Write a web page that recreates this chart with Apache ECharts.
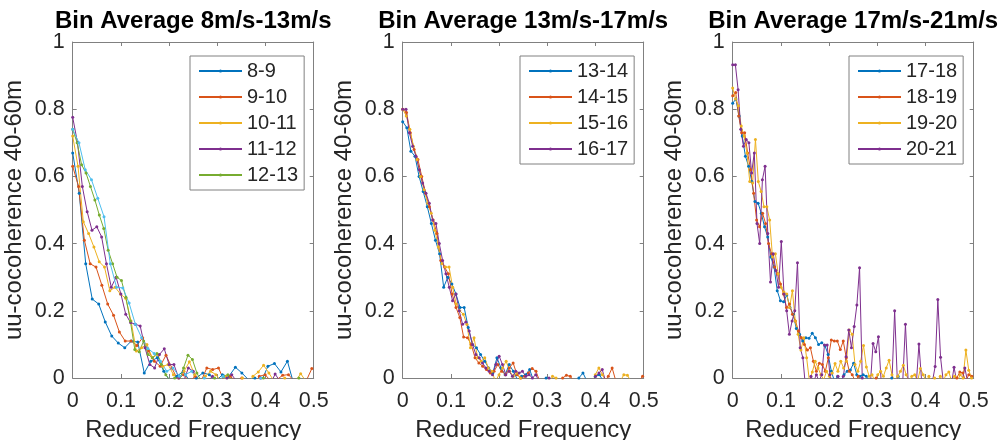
<!DOCTYPE html>
<html>
<head>
<meta charset="utf-8">
<title>Bin Average coherence</title>
<script src="https://cdn.jsdelivr.net/npm/echarts@6/dist/echarts.min.js"></script>
<style>
  html, body { margin: 0; padding: 0; background: #fff; }
  #chart { width: 1001px; height: 440px; }
</style>
</head>
<body>
<div id="chart"></div>
<script>
  // panel titles and legend entries
  const titles = ['Bin Average 8m/s-13m/s', 'Bin Average 13m/s-17m/s', 'Bin Average 17m/s-21m/s'];
  const names1 = ['8-9', '9-10', '10-11', '11-12', '12-13'];
  const names2 = ['13-14', '14-15', '15-16', '16-17'];
  const names3 = ['17-18', '18-19', '19-20', '20-21'];

  // reduced frequency spacing of each bin (step between samples)
  const steps1 = [0.0135, 0.0121, 0.011, 0.01, 0.0092, 0.013];
  const steps2 = [0.0085, 0.0079, 0.0074, 0.0069];
  const steps3 = [0.0066, 0.0062, 0.0059, 0.0056];

  // uu-cocoherence, panel 1
  const coh8_9 = [0.67, 0.55, 0.34, 0.235, 0.22, 0.167, 0.125, 0.104, 0.09, 0.11, 0.107, 0.015, 0.05, 0.06, 0.02, -0.01, 0.005, 0.02, -0.01, 0,
    0.015, 0.01, -0.01, 0.01, 0.005, 0.032, 0.015, -0.005, 0, -0.01, 0.035, 0.043, 0.018, 0.05, -0.02, -0.01, -0.02, -0.01];
  const coh9_10 = [0.63, 0.57, 0.41, 0.34, 0.33, 0.276, 0.22, 0.187, 0.137, 0.11, 0.11, 0.097, 0.12, 0.08, 0.05, 0.035, 0.068, 0.03, -0.005, 0.01,
    -0.01, 0.005, -0.01, 0.03, 0.025, 0.03, -0.01, 0.005, -0.01, 0, -0.01, -0.02, 0.005, 0.01, -0.01, -0.005, 0.008, 0.01, -0.01, -0.02,
    -0.01, 0.028];
  const coh10_11 = [0.72, 0.63, 0.465, 0.43, 0.39, 0.346, 0.33, 0.26, 0.27, 0.25, 0.237, 0.17, 0.08, 0.09, 0.1, 0.06, 0.07, 0.035, 0.04, 0.01,
    0, 0.02, 0.048, 0.01, -0.01, 0.005, 0.02, 0.01, -0.01, 0.005, -0.01, -0.01, 0, -0.02, 0.005, 0.018, 0.038, 0.015, -0.01, -0.01,
    0, -0.02, -0.01, 0.013, -0.01, -0.02];
  const coh11_12 = [0.776, 0.70, 0.57, 0.495, 0.44, 0.45, 0.42, 0.34, 0.27, 0.30, 0.25, 0.19, 0.165, 0.16, 0.155, 0.09, 0.04, 0.03, 0.07, 0.087,
    0.04, 0.04, 0, -0.01, 0.03, 0.02, -0.01, -0.02, -0.01, 0.005, -0.01, -0.02, 0, 0.01, -0.01, -0.02, -0.01, -0.02, -0.01, 0,
    -0.01, -0.02, 0.012, -0.01, -0.02, -0.01, -0.02, -0.01, -0.02, -0.01, -0.02];
  const coh12_13 = [0.74, 0.70, 0.635, 0.61, 0.57, 0.53, 0.485, 0.445, 0.38, 0.34, 0.30, 0.29, 0.24, 0.17, 0.085, 0.078, 0.11, 0.07, 0.06, 0.073,
    0.04, 0.01, -0.01, 0, -0.01, 0.03, 0.068, 0.055, 0.015, -0.01, -0.02, -0.01, 0, -0.01, 0.005, 0.01, -0.01, -0.02, -0.01, -0.02,
    -0.01, -0.02, -0.01, 0, -0.01, -0.02, -0.01, -0.02, -0.01, -0.02, -0.01, 0, -0.01, -0.02, -0.01];
  // sixth line in panel 1 that has no legend entry
  const cohExtra = [0.74, 0.70, 0.62, 0.59, 0.535, 0.48, 0.34, 0.27, 0.268, 0.223, 0.16, 0.12, 0.088, 0.073, 0.05, 0.02, 0.03, 0.005, 0.01, 0.02,
    -0.01, 0, -0.01, -0.02, 0.005, -0.01, -0.02, -0.01, -0.02, -0.01, 0, -0.01, -0.02, -0.01, -0.02, -0.01, -0.02, -0.01, -0.02];

  // panel 2
  const coh13_14 = [0.763, 0.745, 0.675, 0.66, 0.60, 0.555, 0.51, 0.46, 0.41, 0.37, 0.27, 0.30, 0.28, 0.25, 0.21, 0.21, 0.15, 0.10, 0.09, 0.07,
    0.05, 0.03, 0.015, 0.06, 0.03, 0.01, 0.04, 0.02, -0.005, 0.005, 0.01, 0.025, -0.01, -0.02, -0.01, 0, -0.01, -0.02, -0.01, -0.02,
    -0.01, -0.02, -0.01, 0, 0.015, -0.01, -0.02, 0.005, 0.01, -0.01, -0.02, -0.01, -0.02, -0.01, -0.02, -0.01, -0.02, -0.01, -0.02];
  const coh14_15 = [0.80, 0.79, 0.73, 0.68, 0.65, 0.60, 0.55, 0.51, 0.47, 0.43, 0.35, 0.33, 0.31, 0.25, 0.21, 0.18, 0.122, 0.12, 0.10, 0.06,
    0.045, 0.035, 0.025, 0.015, 0.02, 0.04, 0.02, 0.01, 0.03, 0.045, 0.01, 0, 0.005, 0.015, 0.028, 0.02, -0.01, -0.02, -0.01, -0.02,
    -0.01, -0.02, 0, 0.008, 0.005, -0.01, -0.02, -0.01, -0.02, -0.01, -0.02, -0.01, -0.02, -0.01, 0.005, 0.03, -0.01, -0.02, -0.01, -0.02,
    -0.01, -0.02, -0.01, 0.005];
  const coh15_16 = [0.80, 0.78, 0.74, 0.69, 0.65, 0.60, 0.56, 0.52, 0.49, 0.44, 0.39, 0.34, 0.33, 0.33, 0.27, 0.22, 0.20, 0.19, 0.16, 0.09,
    0.12, 0.06, 0.05, 0.06, 0.03, 0.02, -0.01, 0.01, 0.03, 0.05, 0.02, 0.005, 0.015, 0, -0.01, -0.02, -0.01, -0.02, -0.01, -0.02,
    -0.01, -0.02, 0.005, 0, -0.01, -0.02, -0.01, -0.02, -0.01, -0.02, -0.01, -0.02, -0.01, -0.02, 0.01, 0.03, 0.01, -0.01, -0.02, -0.01,
    -0.02, -0.01, 0.01, 0.008, -0.01, -0.02, -0.01, -0.02];
  const coh16_17 = [0.80, 0.80, 0.73, 0.69, 0.66, 0.62, 0.58, 0.55, 0.52, 0.47, 0.46, 0.40, 0.35, 0.31, 0.27, 0.23, 0.25, 0.20, 0.16, 0.167,
    0.14, 0.10, 0.07, 0.06, 0.045, 0.03, 0.02, 0.01, 0.04, 0.065, 0.04, 0.01, 0.02, 0.005, 0.02, 0.015, 0.02, 0.005, 0.01, 0,
    0.01, -0.01, -0.02, -0.01, 0, -0.02, -0.01, -0.02, -0.01, -0.02, -0.01, -0.02, -0.01, -0.02, -0.01, -0.02, -0.01, -0.01, 0.005, 0.015,
    0.025, -0.01, -0.02, -0.01, -0.02, -0.01, -0.02, -0.01, -0.02, -0.01, -0.02, -0.02];

  // panel 3
  const coh17_18 = [0.818, 0.83, 0.78, 0.72, 0.66, 0.63, 0.585, 0.525, 0.52, 0.49, 0.45, 0.42, 0.36, 0.33, 0.26, 0.23, 0.227, 0.247, 0.21, 0.19,
    0.147, 0.13, 0.11, 0.12, 0.118, 0.133, 0.12, 0.10, 0.105, 0.096, 0.07, 0.02, -0.01, 0.005, -0.01, 0.01, 0.02, 0.024, 0.044, 0.01,
    0.005, 0.01, 0.005, -0.01, -0.02, -0.01, -0.02, -0.01, -0.02, -0.01, 0, -0.01, 0.005, -0.01, -0.02, -0.01, -0.02, -0.01, -0.02, -0.01,
    -0.02, -0.01, -0.02, -0.01, -0.02, -0.01, -0.02, -0.01, -0.02, -0.01, -0.02, -0.01, -0.02, -0.01, -0.02, -0.01];
  const coh18_19 = [0.84, 0.85, 0.78, 0.73, 0.73, 0.67, 0.62, 0.55, 0.47, 0.45, 0.49, 0.46, 0.40, 0.37, 0.33, 0.31, 0.28, 0.25, 0.21, 0.22,
    0.19, 0.17, 0.14, 0.12, 0.10, 0.083, 0.09, 0.05, 0.02, 0.044, 0.04, 0.02, 0.06, 0.113, 0.11, 0.11, 0.085, 0.11, 0.06, 0.02,
    0.01, -0.01, 0.005, -0.01, -0.02, -0.01, -0.02, -0.01, 0, -0.01, -0.02, -0.01, -0.02, -0.01, -0.02, -0.01, -0.02, -0.01, -0.02, -0.01,
    -0.02, -0.01, -0.02, -0.01, -0.02, -0.01, -0.02, -0.01, -0.02, -0.01, -0.02, -0.01, -0.02, -0.01, -0.01, 0, 0.018, 0.015, -0.01, 0.01,
    0.005];
  const coh19_20 = [0.863, 0.83, 0.81, 0.75, 0.72, 0.67, 0.585, 0.58, 0.71, 0.585, 0.555, 0.51, 0.51, 0.47, 0.36, 0.37, 0.31, 0.27, 0.256, 0.25,
    0.21, 0.26, 0.17, 0.13, 0.083, 0.12, 0.06, -0.01, 0.018, 0.05, 0.03, 0.01, -0.005, 0.02, 0.005, 0.015, 0.043, 0.02, 0.05, 0.03,
    0.05, 0.143, 0.13, 0.04, 0.02, 0.05, 0.097, 0.033, 0.005, 0.01, -0.01, 0.01, 0.02, 0.005, 0.03, 0.053, 0.01, -0.01, 0.005, 0.02,
    0.038, 0.01, -0.01, 0.005, 0.01, -0.01, 0.028, 0.01, -0.01, 0.005, -0.01, 0, -0.01, 0.005, -0.01, 0.01, 0.018, -0.01, 0.005, -0.01,
    0.01, 0, 0.083, 0.023, 0];
  const coh20_21 = [0.932, 0.932, 0.858, 0.74, 0.69, 0.71, 0.70, 0.61, 0.67, 0.46, 0.40, 0.59, 0.63, 0.43, 0.286, 0.37, 0.32, 0.27, 0.406, 0.25,
    0.20, 0.13, 0.17, 0.20, 0.343, 0.09, 0.06, -0.03, -0.02, 0.005, -0.01, 0.01, -0.01, 0.01, 0.098, 0.098, 0.01, -0.02, -0.01, 0.005,
    -0.01, 0.005, 0.063, 0.143, 0.09, 0.153, 0.217, 0.328, 0, -0.02, -0.01, -0.02, 0.103, 0.078, 0.123, -0.01, -0.02, -0.01, -0.02, -0.01,
    0.2, -0.01, -0.02, -0.01, 0.16, -0.01, -0.02, -0.01, -0.02, 0.101, -0.01, -0.02, -0.01, -0.02, -0.01, 0.034, 0.234, 0.062, -0.01, -0.02,
    -0.01, -0.02, 0.032, -0.01, -0.02, -0.01, 0.03, -0.01, -0.02, -0.01];

  const colors = ['#0072BD', '#D95319', '#EDB120', '#7E2F8E', '#77AC30', '#4DBEEE'];
  const font = 'Liberation Sans, Arial, Helvetica, sans-serif';
  const axisGray = '#808080';
  const textDark = '#262626';

  const panels = [
    { names: names1.concat(['extra']), steps: steps1, values: [coh8_9, coh9_10, coh10_11, coh11_12, coh12_13, cohExtra], legend: names1 },
    { names: names2, steps: steps2, values: [coh13_14, coh14_15, coh15_16, coh16_17], legend: names2 },
    { names: names3, steps: steps3, values: [coh17_18, coh18_19, coh19_20, coh20_21], legend: names3 }
  ];

  const gridLeft = [72.7, 402.7, 732.7];
  const gridWidth = 241;
  const gridTop = 42;
  const gridHeight = 336;

  function toPoints(step, vals) {
    return vals.map((v, i) => [+(i * step).toFixed(5), v]);
  }

  const grid = [], xAxis = [], yAxis = [], series = [], legend = [], title = [];

  panels.forEach((p, k) => {
    // outerBoundsMode none: keep the grid exactly where it is set
    grid.push({ left: gridLeft[k], top: gridTop, width: gridWidth, height: gridHeight, containLabel: false, outerBoundsMode: 'none' });

    const lineStyle = { color: axisGray, width: 1 };
    const tick = { show: true, inside: true, length: 4, lineStyle: { color: axisGray } };

    // bottom + mirrored top x axis
    xAxis.push({
      gridIndex: k, type: 'value', min: 0, max: 0.5, interval: 0.1,
      axisLine: { show: true, onZero: false, lineStyle },
      axisTick: tick,
      axisLabel: { color: textDark, fontSize: 21.5, fontFamily: font, margin: 12 },
      splitLine: { show: false },
      name: 'Reduced Frequency', nameLocation: 'middle', nameGap: 40,
      nameTextStyle: { color: textDark, fontSize: 24, fontFamily: font }
    });
    xAxis.push({
      gridIndex: k, type: 'value', min: 0, max: 0.5, interval: 0.1, position: 'top',
      axisLine: { show: true, onZero: false, lineStyle },
      axisTick: tick, axisLabel: { show: false }, splitLine: { show: false }
    });

    // left + mirrored right y axis
    yAxis.push({
      gridIndex: k, type: 'value', min: 0, max: 1, interval: 0.2,
      axisLine: { show: true, onZero: false, lineStyle },
      axisTick: tick,
      axisLabel: { color: textDark, fontSize: 21.5, fontFamily: font, margin: 8 },
      splitLine: { show: false },
      name: 'uu-cocoherence 40-60m', nameLocation: 'middle', nameGap: 46,
      nameTextStyle: { color: textDark, fontSize: 24, fontFamily: font }
    });
    yAxis.push({
      gridIndex: k, type: 'value', min: 0, max: 1, interval: 0.2, position: 'right',
      axisLine: { show: true, onZero: false, lineStyle },
      axisTick: tick, axisLabel: { show: false }, splitLine: { show: false }
    });

    p.values.forEach((vals, j) => {
      series.push({
        name: p.names[j], type: 'line',
        xAxisIndex: k * 2, yAxisIndex: k * 2,
        data: toPoints(p.steps[j], vals),
        symbol: 'circle', symbolSize: 3, showSymbol: true,
        lineStyle: { width: 1, color: colors[j] },
        itemStyle: { color: colors[j] },
        clip: true, silent: true,
        emphasis: { disabled: true }
      });
    });

    legend.push({
      data: p.legend, orient: 'vertical',
      left: [190, 520, 849][k], top: 56,
      itemWidth: 43, itemHeight: 4, itemGap: 6,
      padding: [5, 6, 5, 8],
      backgroundColor: '#fff', borderColor: axisGray, borderWidth: 1,
      selectedMode: false,
      textStyle: { color: textDark, fontSize: 20, lineHeight: 20, fontFamily: font }
    });

    title.push({
      text: titles[k], left: gridLeft[k] + gridWidth / 2, top: 9, textAlign: 'center', padding: 0,
      textStyle: { color: '#000', fontSize: 24, fontWeight: 'bold', lineHeight: 24, fontFamily: font }
    });
  });

  const chart = echarts.init(document.getElementById('chart'), null, { renderer: 'canvas' });
  chart.setOption({
    backgroundColor: '#fff',
    animation: false,
    title, grid, xAxis, yAxis, legend, series
  });
</script>
</body>
</html>
